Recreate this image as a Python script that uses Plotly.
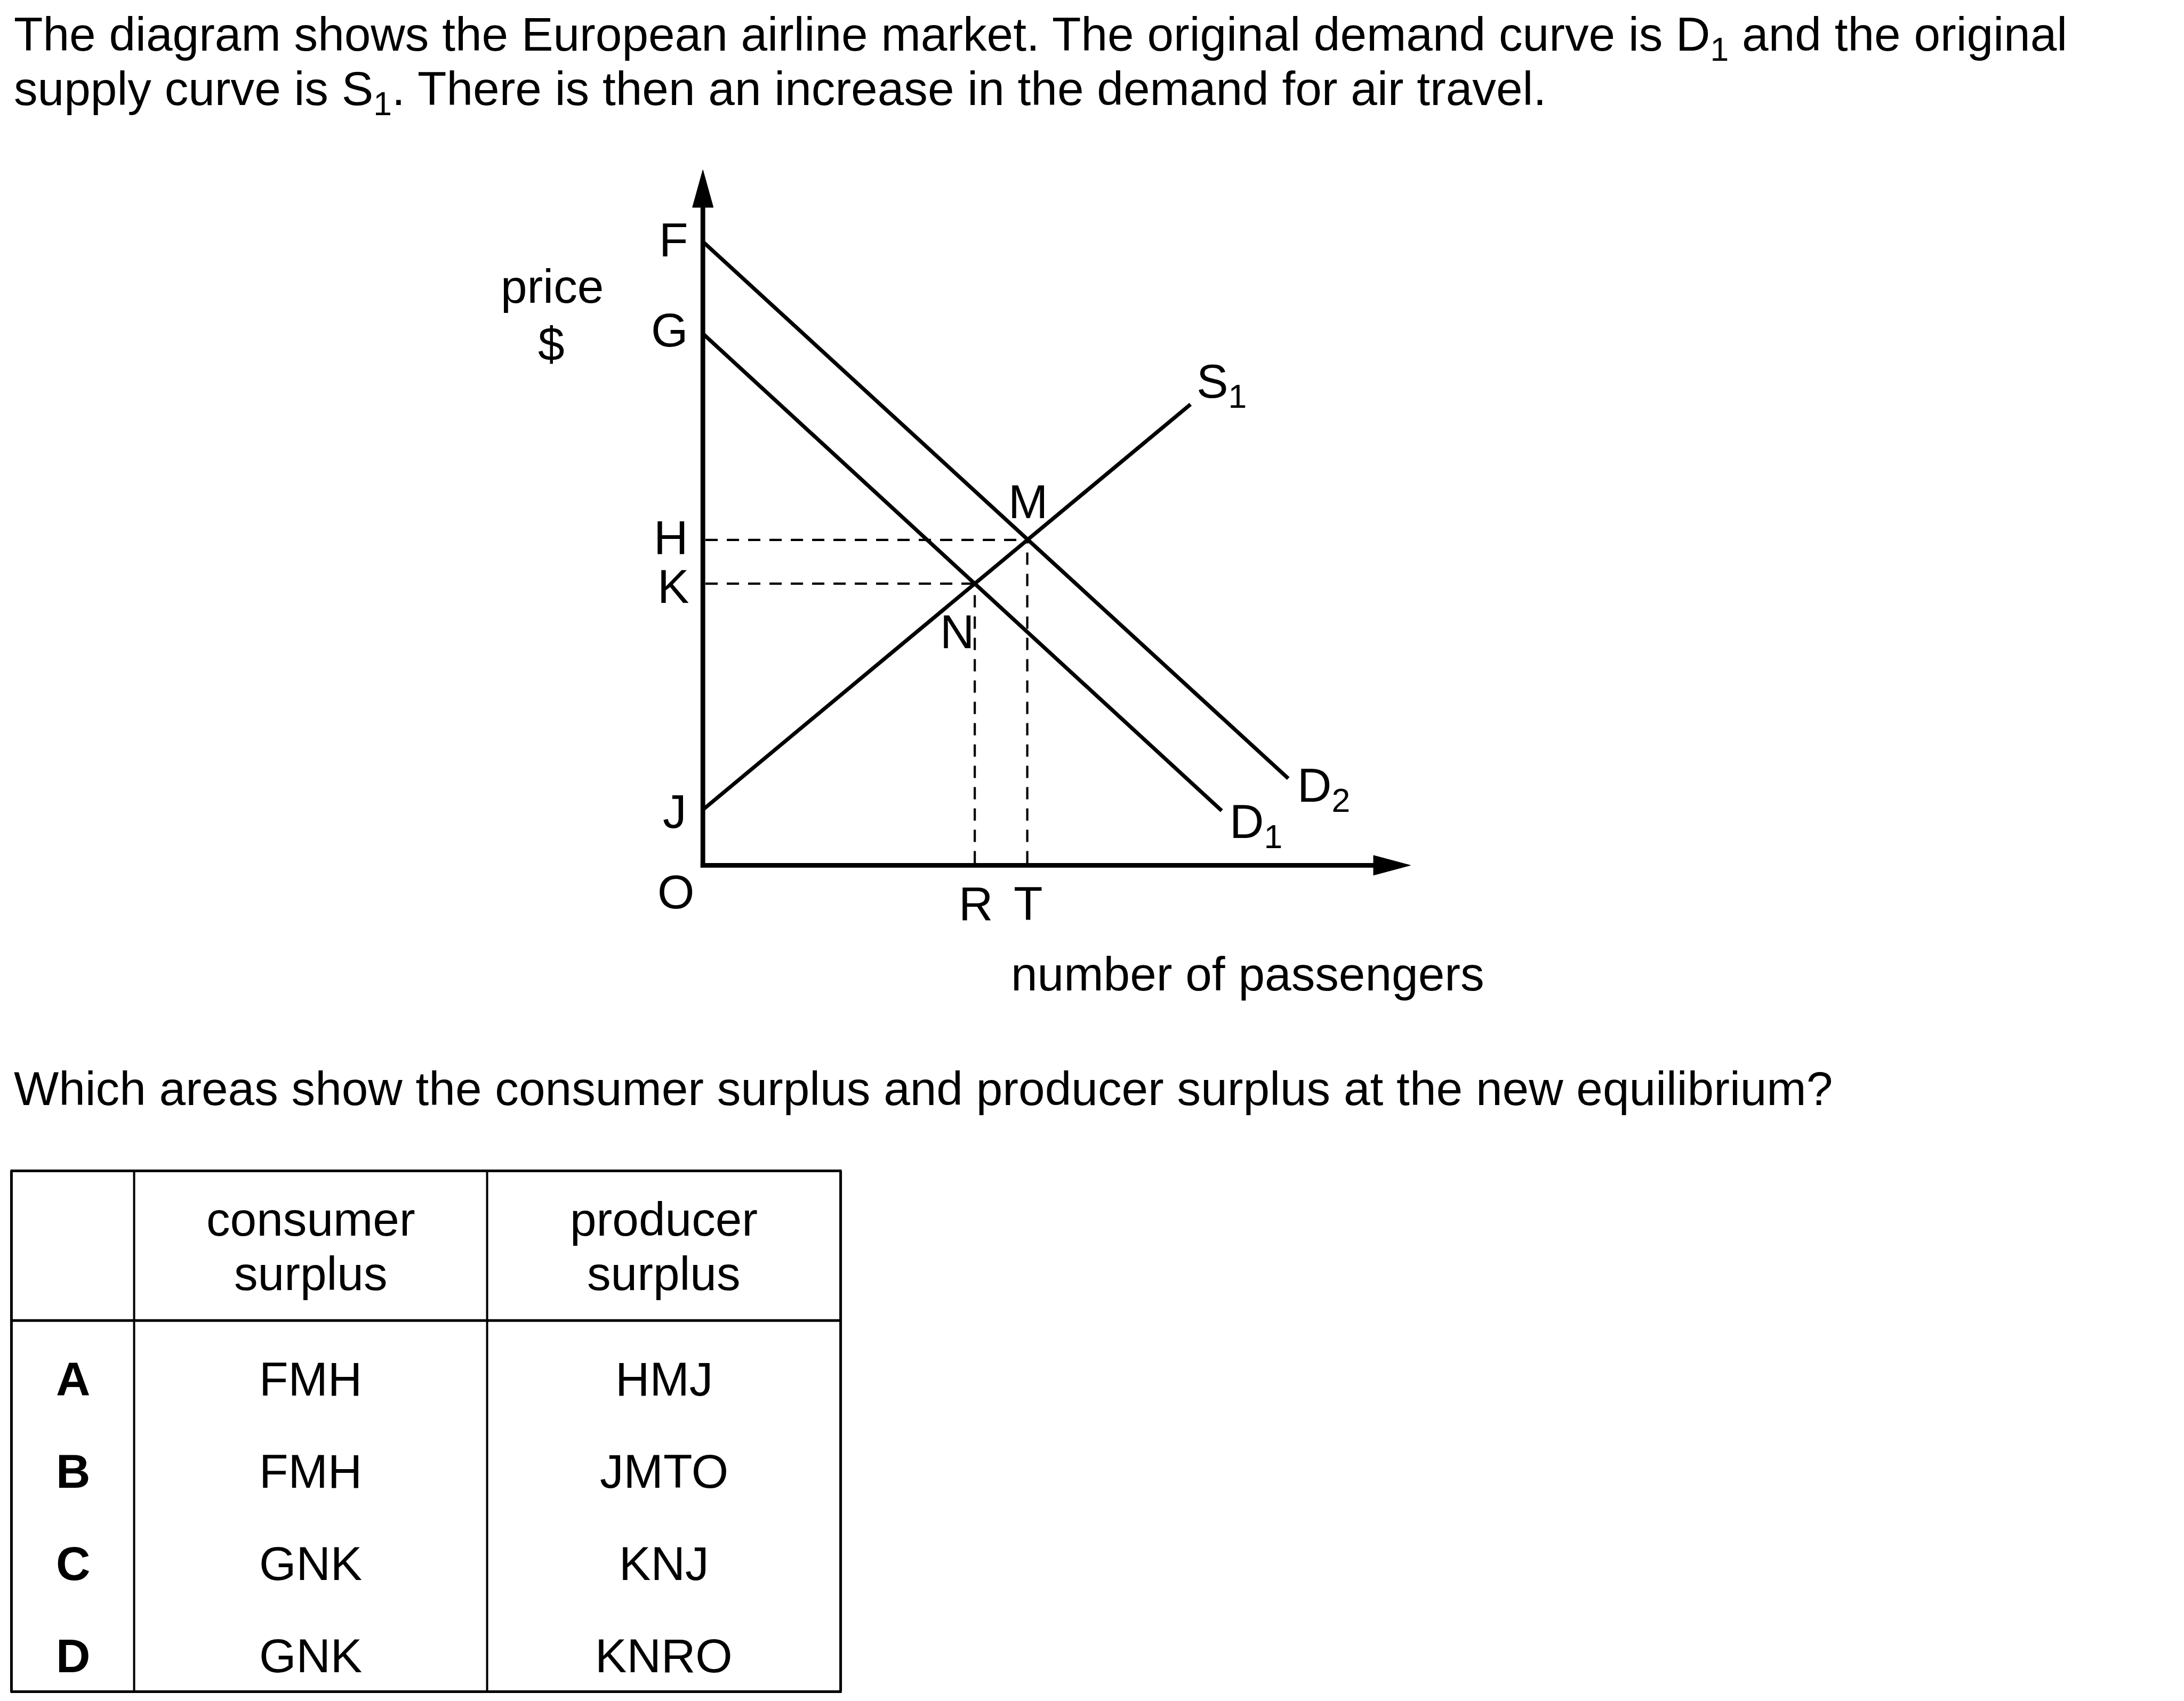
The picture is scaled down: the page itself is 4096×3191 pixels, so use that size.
import plotly.graph_objects as go

# ---------------- data (diagram units: quantity, price) ----------------
price_labels = ["F", "G", "H", "K", "J"]
price_values = [120.0, 102.3, 62.6, 54.2, 10.7]
qty_labels = ["R", "T"]
qty_values = [52.3, 62.4]

d1_q = [0.0, 99.8]
d1_p = [102.3, 10.5]
d2_q = [0.0, 112.6]
d2_p = [120.0, 16.7]
s1_q = [0.0, 93.8]
s1_p = [10.7, 88.7]

eq_labels = ["N", "M"]
eq_q = [52.3, 62.4]
eq_p = [54.2, 62.6]

options = ["A", "B", "C", "D"]
consumer_surplus = ["FMH", "FMH", "GNK", "GNK"]
producer_surplus = ["HMJ", "JMTO", "KNJ", "KNRO"]
header = ["", "consumer<br>surplus", "producer<br>surplus"]

title_lines = [
    "The diagram shows the European airline market. The original demand curve is D<sub>1</sub> and the original",
    "supply curve is S<sub>1</sub>. There is then an increase in the demand for air travel.",
]
question = "Which areas show the consumer surplus and producer surplus at the new equilibrium?"

# ---------------- layout helpers (reference pixel frame) ----------------
W, H = 4201.0, 3273.0
OX, OY, UNIT = 1352.0, 1665.0, 10.0   # origin and px per unit in reference
FONT = "Liberation Sans, Arial, sans-serif"
FS_REF = 91.5
FS = FS_REF * 0.975
ASC = 0.905

def px(xr):
    return xr / W

def py(yr):
    return 1 - yr / H

def ann_base(text, xr, base_r, anchor="center", bold=False, size=FS):
    top = base_r - ASC * FS_REF - 2
    return dict(text=("<b>%s</b>" % text) if bold else text,
                x=px(xr), y=py(top), xref="paper", yref="paper",
                xanchor=anchor, yanchor="top", showarrow=False,
                font=dict(family=FONT, size=size, color="black"))

fig = go.Figure()

LW = 7.2
AW = 8.8
BLACK = "black"

def line(q, p, width=LW, dash="solid"):
    fig.add_trace(go.Scatter(x=q, y=p, mode="lines",
                             line=dict(color=BLACK, width=width, dash=dash),
                             hoverinfo="skip", showlegend=False))

# axes
y_arrow_base, y_arrow_tip = 126.6, 133.8
x_arrow_base, x_arrow_tip = 129.0, 136.1
line([0, 0], [-0.4, y_arrow_base + 0.5], width=AW)
line([-0.45, x_arrow_base + 0.5], [0, 0], width=AW)
fig.add_trace(go.Scatter(x=[-2.0, 2.0, 0, -2.0], y=[y_arrow_base, y_arrow_base, y_arrow_tip, y_arrow_base],
                         mode="lines", fill="toself", fillcolor=BLACK, line=dict(color=BLACK, width=1),
                         hoverinfo="skip", showlegend=False))
fig.add_trace(go.Scatter(x=[x_arrow_base, x_arrow_base, x_arrow_tip, x_arrow_base], y=[-1.9, 1.9, 0, -1.9],
                         mode="lines", fill="toself", fillcolor=BLACK, line=dict(color=BLACK, width=1),
                         hoverinfo="skip", showlegend=False))

# dashed guides
DASH = "23px,17px"
for (q, p) in zip(eq_q, eq_p):
    line([0.5, q], [p, p], width=4.2, dash=DASH)
    line([q, q], [0.4, p], width=4.2, dash=DASH)

# curves
line(d2_q, d2_p)
line(d1_q, d1_p)
line(s1_q, s1_p)

# ---------------- annotations ----------------
anns = []
anns.append(ann_base(title_lines[0], 25, 97, anchor="left"))
anns.append(ann_base(title_lines[1], 25, 202, anchor="left"))

price_lab_x = [1296, 1288, 1290, 1295, 1298]
price_lab_base = [493, 666, 1065, 1160, 1593]
for lab, xr, b in zip(price_labels, price_lab_x, price_lab_base):
    anns.append(ann_base(lab, xr, b))
anns.append(ann_base("O", 1300, 1747))
for lab, q in zip(qty_labels, qty_values):
    anns.append(ann_base(lab, OX + q * UNIT + 2, 1770))
eq_lab_x = [1841, 1977]
eq_lab_base = [1247, 997]
for lab, xr, b in zip(eq_labels, eq_lab_x, eq_lab_base):
    anns.append(ann_base(lab, xr, b))

anns.append(ann_base("S<sub>1</sub>", 2299, 765, anchor="left"))
anns.append(ann_base("D<sub>2</sub>", 2493, 1542, anchor="left"))
anns.append(ann_base("D<sub>1</sub>", 2363, 1612, anchor="left"))

anns.append(ann_base("price", 1062, 582))
anns.append(ann_base("$", 1061, 693))
anns.append(ann_base("number of passengers", 1943, 1905, anchor="left"))

anns.append(ann_base(question, 25, 2126, anchor="left"))

# ---------------- table ----------------
col_x = [22, 258, 937, 1617]
row_top, head_bot, tab_bot = 2253, 2541, 3255
shapes = []
def seg(x0, y0, x1, y1, w):
    shapes.append(dict(type="line", xref="paper", yref="paper",
                       x0=px(x0), y0=py(y0), x1=px(x1), y1=py(y1),
                       line=dict(color=BLACK, width=w)))
seg(col_x[0] - 2, row_top, col_x[-1] + 2, row_top, 5)
seg(col_x[0], head_bot, col_x[-1], head_bot, 5)
seg(col_x[0] - 2, tab_bot, col_x[-1] + 2, tab_bot, 5)
seg(col_x[0], row_top, col_x[0], tab_bot, 5)
seg(col_x[-1], row_top, col_x[-1], tab_bot, 5)
seg(col_x[1], row_top, col_x[1], tab_bot, 4)
seg(col_x[2], row_top, col_x[2], tab_bot, 4)

col_c = [(col_x[i] + col_x[i + 1]) / 2 for i in range(3)]
head_base = [2377, 2482]
for ci in (1, 2):
    for li, txt in enumerate(header[ci].split("<br>")):
        anns.append(ann_base(txt, col_c[ci], head_base[li]))

row_base = [2685, 2862, 3040, 3217]
for o, c, p_, b in zip(options, consumer_surplus, producer_surplus, row_base):
    anns.append(ann_base(o, col_c[0], b, bold=True))
    anns.append(ann_base(c, col_c[1], b))
    anns.append(ann_base(p_, col_c[2], b))

fig.update_layout(
    width=4096, height=3191,
    margin=dict(l=0, r=0, t=0, b=0),
    paper_bgcolor="white", plot_bgcolor="white",
    xaxis=dict(range=[(0 - OX) / UNIT, (W - OX) / UNIT], domain=[0, 1], visible=False, fixedrange=True),
    yaxis=dict(range=[(OY - H) / UNIT, OY / UNIT], domain=[0, 1], visible=False, fixedrange=True),
    annotations=anns, shapes=shapes, showlegend=False,
)

fig.write_html("out.html", config={"displayModeBar": False},
               post_script="document.body.style.margin='0px';document.body.style.overflow='hidden';")
